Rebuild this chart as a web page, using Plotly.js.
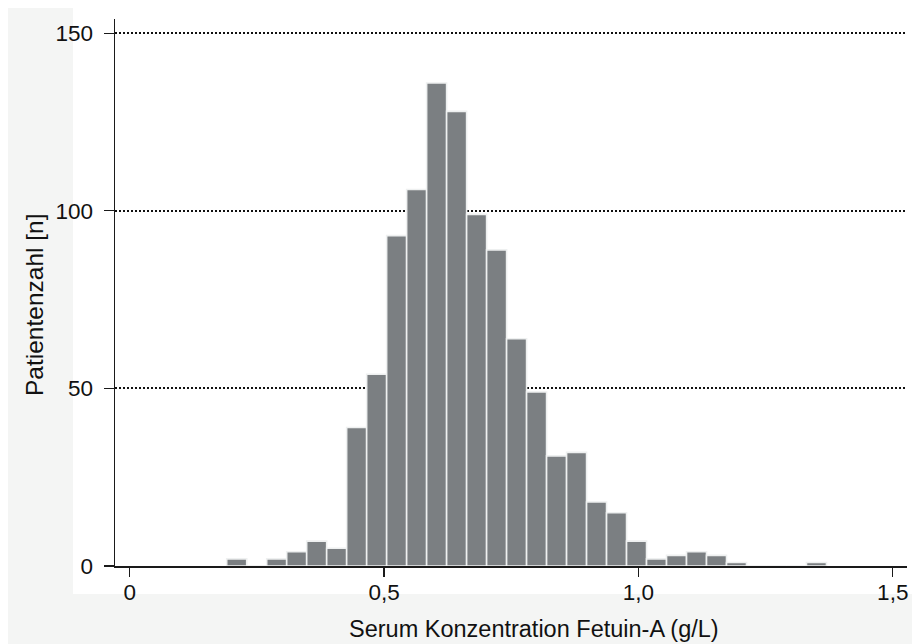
<!DOCTYPE html>
<html>
<head>
<meta charset="utf-8">
<script src="https://cdn.plot.ly/plotly-3.0.1.min.js"></script>
<style>html,body{margin:0;padding:0;background:#fff;}#chart{width:912px;height:644px;}</style>
</head>
<body>
<div id="chart"></div>
<script>
// Histogram: Serum Konzentration Fetuin-A (g/L), 30 bins
const binStart = 0.1907;   // lower edge of first bin (g/L)
const binWidth = 0.0393;   // bin width (g/L)
const counts = [2, 0, 2, 4, 7, 5, 39, 54, 93, 106, 136, 128, 99, 89, 64, 49, 31, 32, 18, 15, 7, 2, 3, 4, 3, 1, 0, 0, 0, 1];
const xTickVals = [0, 0.5, 1.0, 1.5];
const xTickText = ['0', '0,5', '1,0', '1,5'];
const yTickVals = [0, 50, 100, 150];
const yTickText = ['0', '50', '100', '150'];
const xTitle = 'Serum Konzentration Fetuin-A (g/L)';
const yTitle = 'Patientenzahl [n]';

const centers = counts.map((_, i) => binStart + (i + 0.5) * binWidth);

const W = 912, H = 644, L = 115, R = 5, T = 19, B = 78;
const pw = W - L - R, ph = H - T - B;
const px = v => (v - L) / pw;
const py = v => (H - B - v) / ph;

const trace = {
  type: 'bar',
  x: centers,
  y: counts,
  width: binWidth,
  marker: { color: '#7b7f82', line: { color: '#eef0f0', width: 1.6 } },
  hoverinfo: 'x+y'
};

const fam = '"Liberation Sans", Arial, sans-serif';
const tickFont = { family: fam, size: 22.5, color: '#111' };
const xTitleFont = { family: fam, size: 23.5, color: '#111' };
const yTitleFont = { family: fam, size: 24.5, color: '#111' };

const layout = {
  width: W, height: H, autosize: false,
  margin: { l: L, r: R, t: T, b: B, pad: 0 },
  paper_bgcolor: '#ffffff',
  plot_bgcolor: '#ffffff',
  font: tickFont,
  showlegend: false,
  bargap: 0,
  xaxis: {
    range: [-0.0289, 1.528],
    showline: true, linecolor: '#1a1a1a', linewidth: 1.5,
    ticks: 'outside', ticklen: 9, tickwidth: 1.2, tickcolor: '#1a1a1a',
    tickmode: 'array', tickvals: xTickVals, ticktext: xTickText,
    tickfont: tickFont, ticklabelstandoff: -4,
    showgrid: false, zeroline: false,
    automargin: false
  },
  yaxis: {
    range: [0, 154],
    showline: true, linecolor: '#1a1a1a', linewidth: 1.5,
    ticks: 'outside', ticklen: 10, tickwidth: 1.2, tickcolor: '#1a1a1a',
    tickmode: 'array', tickvals: yTickVals, ticktext: yTickText,
    tickfont: tickFont, ticklabelstandoff: 6,
    showgrid: true, gridcolor: '#111', gridwidth: 2, griddash: '2px,2px',
    zeroline: false,
    automargin: false
  },
  annotations: [
    { text: xTitle, xref: 'paper', yref: 'paper', x: px(533.5), y: py(629),
      xanchor: 'center', yanchor: 'middle', showarrow: false, font: xTitleFont },
    { text: yTitle, xref: 'paper', yref: 'paper', x: px(34), y: py(305),
      xanchor: 'center', yanchor: 'middle', textangle: -90, showarrow: false, font: yTitleFont }
  ],
  shapes: [
    { type: 'rect', xref: 'paper', yref: 'paper', layer: 'below',
      x0: px(8), x1: px(73), y0: py(8), y1: py(594),
      fillcolor: '#f4f5f4', line: { width: 0 } },
    { type: 'rect', xref: 'paper', yref: 'paper', layer: 'below',
      x0: px(8), x1: px(912), y0: py(594), y1: py(644),
      fillcolor: '#f4f5f4', line: { width: 0 } }
  ]
};

Plotly.newPlot('chart', [trace], layout, { displayModeBar: false, staticPlot: true });
</script>
</body>
</html>
